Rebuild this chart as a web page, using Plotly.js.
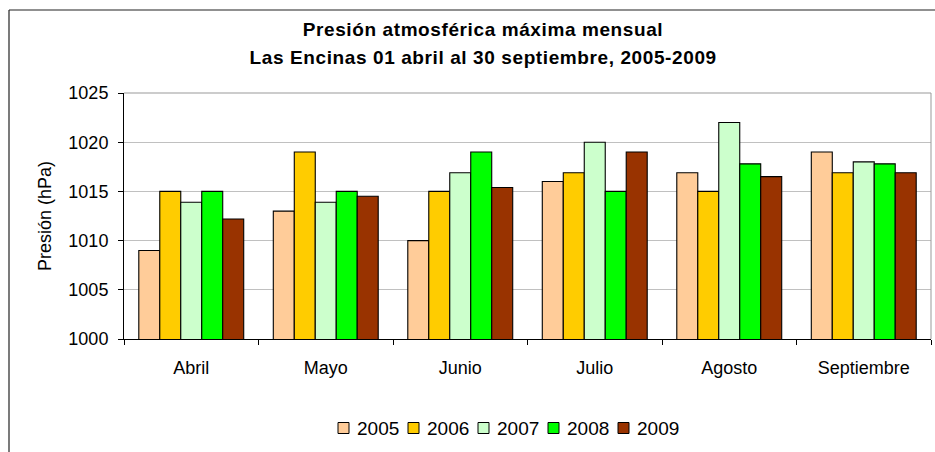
<!DOCTYPE html>
<html>
<head>
<meta charset="utf-8">
<script src="https://cdn.plot.ly/plotly-3.0.1.min.js"></script>
<style>
html,body{margin:0;padding:0;background:#fff;}
#chart{width:935px;height:452px;}
#chart .gtitle, #chart .annotation[data-index="0"] .annotation-text{letter-spacing:0.6px;}
</style>
</head>
<body>
<div id="chart"></div>
<script>
const months = ["Abril", "Mayo", "Junio", "Julio", "Agosto", "Septiembre"];
const years = ["2005", "2006", "2007", "2008", "2009"];
const v2005 = [1009, 1013, 1010, 1016, 1016.9, 1019];
const v2006 = [1015, 1019, 1015, 1016.9, 1015, 1016.9];
const v2007 = [1013.9, 1013.9, 1016.9, 1020, 1022, 1018];
const v2008 = [1015, 1015, 1019, 1015, 1017.8, 1017.8];
const v2009 = [1012.2, 1014.5, 1015.4, 1019, 1016.5, 1016.9];
const yTicks = [1000, 1005, 1010, 1015, 1020, 1025];
const seriesValues = [v2005, v2006, v2007, v2008, v2009];
const colors = ["#FFCC99", "#FFCC00", "#CCFFCC", "#00FF00", "#993300"];

const FONT = "Liberation Sans, Arial, Helvetica, sans-serif";

const traces = years.map((yr, i) => ({
  type: "bar",
  name: yr,
  x: months,
  y: seriesValues[i],
  marker: {color: colors[i], line: {color: "#000000", width: 1.1}},
  hoverinfo: "x+y+name"
}));

const W = 935, H = 452;
const L = 124, R = 4, T = 93, B = 113;
const pw = W - L - R, ph = H - T - B;
const px = x => (x - L) / pw;
const py = y => (H - B - y) / ph;

// legend (drawn as shapes + text, Excel-style compact spacing)
const legStartX = 338, legStep = 70, legY = 428, sw = 11;
const legendShapes = years.map((yr, i) => ({
  type: "rect", xref: "paper", yref: "paper",
  x0: px(legStartX + legStep * i), x1: px(legStartX + legStep * i + sw),
  y0: py(legY - sw / 2), y1: py(legY + sw / 2),
  fillcolor: colors[i], line: {color: "#000000", width: 1}
}));
const legendTexts = years.map((yr, i) => ({
  text: yr, xref: "paper", yref: "paper",
  x: px(legStartX + legStep * i + sw + 6), y: py(legY),
  xanchor: "left", yanchor: "middle", showarrow: false,
  font: {family: FONT, size: 19, color: "#000000"}
}));

const layout = {
  width: W, height: H,
  margin: {l: L, r: R, t: T, b: B, pad: 0},
  paper_bgcolor: "#ffffff",
  plot_bgcolor: "#ffffff",
  font: {family: FONT, size: 18, color: "#000000"},
  barmode: "group",
  bargap: 0.22,
  bargroupgap: 0,
  showlegend: false,
  title: {
    text: "<b>Presión atmosférica máxima mensual</b>",
    font: {family: FONT, size: 19, color: "#000000"},
    x: 483 / W, xref: "container", xanchor: "center",
    y: 1 - 29 / H, yref: "container", yanchor: "middle"
  },
  annotations: [{
    text: "<b>Las Encinas 01 abril al 30 septiembre, 2005-2009</b>",
    xref: "paper", yref: "paper",
    x: px(483), y: py(57), xanchor: "center", yanchor: "middle",
    showarrow: false,
    font: {family: FONT, size: 19, color: "#000000"}
  }].concat(legendTexts),
  xaxis: {
    type: "category",
    categoryorder: "array",
    categoryarray: months,
    showline: true, linecolor: "#000000", linewidth: 1,
    ticks: "outside", ticklen: 5, tickcolor: "#000000", tickwidth: 1,
    tickson: "boundaries",
    showgrid: false, zeroline: false,
    tickfont: {family: FONT, size: 18, color: "#000000"},
    ticklabelstandoff: 12
  },
  yaxis: {
    range: [1000, 1025],
    tickmode: "array", tickvals: yTicks, ticktext: yTicks.map(String),
    showline: true, linecolor: "#000000", linewidth: 1,
    ticks: "outside", ticklen: 5, tickcolor: "#000000", tickwidth: 1,
    showgrid: true, gridcolor: "#c0c0c0", gridwidth: 1,
    zeroline: false,
    tickfont: {family: FONT, size: 18, color: "#000000"},
    ticklabelstandoff: 6,
    title: {text: "Presión (hPa)", font: {family: FONT, size: 18, color: "#000000"}, standoff: 12}
  },
  shapes: [
    {type: "line", xref: "paper", yref: "paper", x0: 0, x1: 1, y0: 1, y1: 1, line: {color: "#999999", width: 1}},
    {type: "line", xref: "paper", yref: "paper", x0: 1, x1: 1, y0: 0, y1: 1, line: {color: "#999999", width: 1}},
    {type: "line", xref: "paper", yref: "paper", x0: px(9), x1: px(9), y0: py(10), y1: py(470), line: {color: "#222222", width: 1.2}},
    {type: "line", xref: "paper", yref: "paper", x0: px(9), x1: px(960), y0: py(10), y1: py(10), line: {color: "#222222", width: 1.2}}
  ].concat(legendShapes)
};

Plotly.newPlot("chart", traces, layout, {displayModeBar: false, staticPlot: true});
</script>
</body>
</html>
